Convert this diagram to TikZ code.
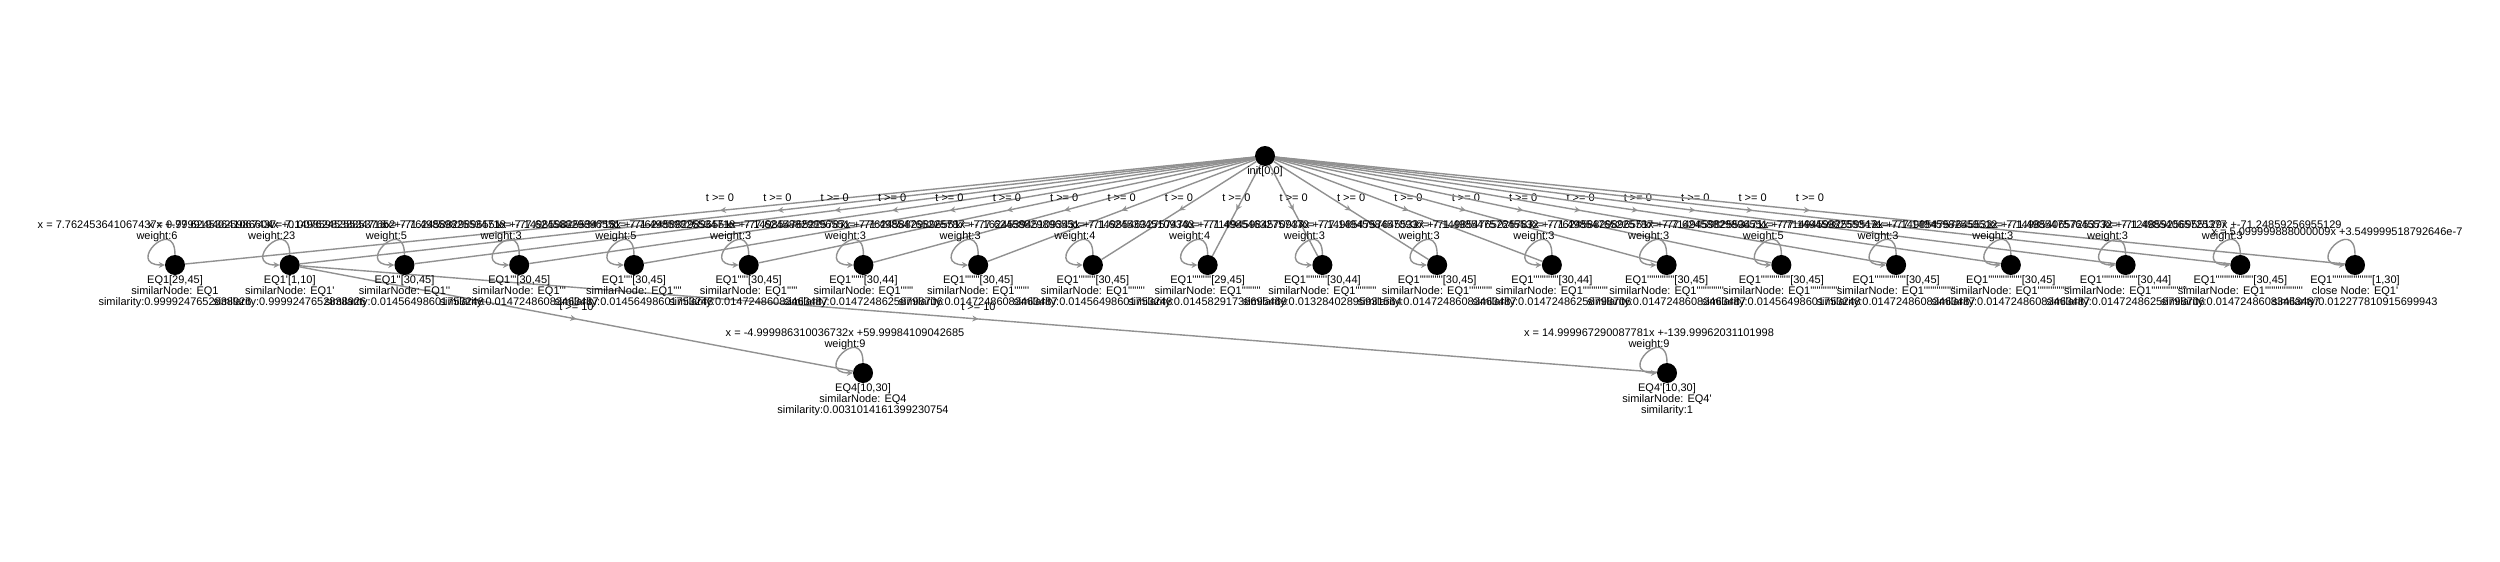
\documentclass[tikz,border=0pt]{standalone}
\usepackage{fontspec}
\newfontfamily\visfont{Liberation Sans}
\usetikzlibrary{arrows.meta,decorations.markings,backgrounds}
\definecolor{edgegray}{RGB}{145,145,145}
\newcommand\eqprimes[1]{\ifnum#1>0 '\expandafter\eqprimes\expandafter{\number\numexpr#1-1\relax}\fi}

\begin{document}
\begin{tikzpicture}[x=1pt,y=1pt,
  vstate/.style={circle,fill=black,minimum size=20pt,inner sep=0pt},
  vtext/.style={font=\visfont\fontsize{11}{11}\selectfont,align=center,inner sep=0pt},
  trans/.style={draw=edgegray,line width=1.4pt,postaction={decorate},
    decoration={markings,mark=at position 0.5 with {\arrow{Stealth[length=6pt,width=6pt]}}}},
  selfloop/.style={draw=edgegray,line width=1.4pt,-{Stealth[length=6pt,width=6pt]},
    loop,out=90,in=180,min distance=40pt},
  guard/.style={vtext,midway,above=8pt}]
  \useasboundingbox (0,0) rectangle (2500,-562);
  % initial state
  \node[vstate] (init) at (1265,-156) {};
  \node[vtext,anchor=north] (initlbl) at (init.south) {init[0,0]};
  % EQ1 states in one row
  \foreach \k/\iv/\sv/\eqn/\wt in {
      1/{[29,45]}/{0.9999247652838926}/{7.762453641067437x +-77.62453641067437}/6,
      2/{[1,10]}/{0.9999247652838926}/{0.9999194025986604x +0.0076245388537652}/23,
      3/{[30,45]}/{0.01456498601753248}/{7.149859825534718x +-71.49859825534718}/5,
      4/{[30,45]}/{0.01472486083463487}/{7.762458829896551x +-77.62458829896551}/3,
      5/{[30,45]}/{0.01456498601753248}/{7.149859825534718x +-71.49859825534718}/5,
      6/{[30,45]}/{0.01472486083463487}/{7.762458829896551x +-77.62458829896551}/3,
      7/{[30,44]}/{0.01472486258798706}/{7.149854765225787x +-71.49854765225787}/3,
      8/{[30,45]}/{0.01472486083463487}/{7.762458829896551x +-77.62458829896551}/3,
      9/{[30,45]}/{0.01456498601753248}/{7.162453945109343x +-71.62453945109343}/4,
      10/{[29,45]}/{0.01458291738695469}/{7.149854632757470x +-71.49854632757470}/4,
      11/{[30,44]}/{0.01328402895931564}/{7.714945984570937x +-77.14945984570937}/3,
      12/{[30,45]}/{0.01472486083463487}/{7.149854757645532x +-71.49854757645532}/3,
      13/{[30,44]}/{0.01472486258798706}/{7.149854765225787x +-71.49854765225787}/3,
      14/{[30,45]}/{0.01472486083463487}/{7.762458829896551x +-77.62458829896551}/3,
      15/{[30,45]}/{0.01456498601753248}/{7.714945982553471x +-77.14945982553471}/5,
      16/{[30,45]}/{0.01472486083463487}/{7.714945982559512x +-77.14945982559512}/3,
      17/{[30,45]}/{0.01472486083463487}/{7.149854757645532x +-71.49854757645532}/3,
      18/{[30,44]}/{0.01472486258798706}/{7.149854065725377x +-71.49854065725377}/3,
      19/{[30,45]}/{0.01472486083463487}/{7.124859256955129x +-71.24859256955129}/3}
  {
    \pgfmathtruncatemacro\np{\k-1}
    \node[vstate] (q\k) at ({175+114.74*(\k-1)},-265) {};
    \node[vtext,anchor=north] (l\k) at (q\k.south)
      {EQ1\eqprimes{\np}\iv\\similarNode: EQ1\eqprimes{\np}\\similarity:\sv};
    \node[vtext] (w\k) at ([shift={(-18,33.5)}]q\k.center) {x = \eqn\\weight:\wt};
  }
  \node[vstate] (q20) at (2355,-265) {};
  \node[vtext,anchor=north] (l20) at (q20.south)
    {EQ1\eqprimes{19}[1,30]\\close Node: EQ1'\\similarity:0.012277810915699943};
  \node[vtext] (w20) at ([shift={(-18,33.5)}]q20.center) {x = 5.099999888000009x +3.549999518792646e-7};
  % EQ4 states
  \node[vstate] (q21) at (863,-373) {};
  \node[vtext,anchor=north] (l21) at (q21.south)
    {EQ4[10,30]\\similarNode: EQ4\\similarity:0.0031014161399230754};
  \node[vtext] (w21) at ([shift={(-18,33.5)}]q21.center) {x = -4.999986310036732x +59.99984109042685\\weight:9};
  \node[vstate] (q22) at (1667,-373) {};
  \node[vtext,anchor=north] (l22) at (q22.south)
    {EQ4'[10,30]\\similarNode: EQ4'\\similarity:1};
  \node[vtext] (w22) at ([shift={(-18,33.5)}]q22.center) {x = 14.999967290087781x +-139.99962031101998\\weight:9};
  % transitions
  \begin{pgfonlayer}{background}
    \foreach \k in {1,...,20}
      \path (init) edge[trans] node[guard] (g\k) {t >= 0} (q\k)
            (q\k) edge[selfloop] (q\k);
    \path (q2) edge[trans] node[guard] (g21) {t >= 10} (q21)
          (q2) edge[trans] node[guard] (g22) {t >= 10} (q22)
          (q21) edge[selfloop] (q21)
          (q22) edge[selfloop] (q22);
  \end{pgfonlayer}
\end{tikzpicture}
\end{document}
